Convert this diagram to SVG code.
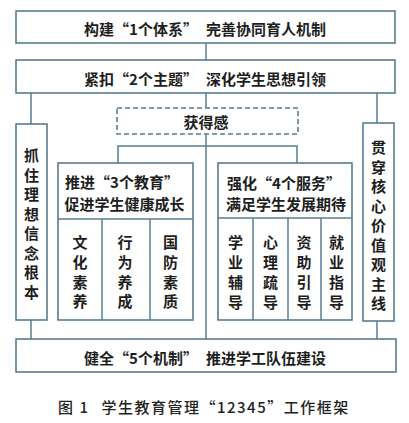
<svg xmlns="http://www.w3.org/2000/svg" width="409" height="423" viewBox="0 0 409 423">
<style>
.box{fill:#fff;stroke:#587c92;stroke-width:1.6}
.dash{fill:#fff;stroke:#587c92;stroke-width:1.6;stroke-dasharray:5 3}
.ln{stroke:#587c92;stroke-width:1.5;fill:none}
.t{font-family:"Noto Sans CJK SC","Noto Sans CJK JP",sans-serif;font-weight:bold;font-size:15px;fill:#1e1e1e;dominant-baseline:central}
.m{text-anchor:middle}
.cap{font-family:"Noto Sans CJK SC","Noto Sans CJK JP",sans-serif;font-weight:500;font-size:15px;fill:#222;dominant-baseline:central;letter-spacing:1.5px}
</style>
<rect width="409" height="423" fill="#fff"/>
<g id="connectors">
<line class="ln" x1="206" y1="43" x2="206" y2="60"/>
<line class="ln" x1="206" y1="93" x2="206" y2="108"/>
<line class="ln" x1="206" y1="134" x2="206" y2="339"/>
<polyline class="ln" points="118,163 118,146 297,146 297,163"/>
<line class="ln" x1="31" y1="93" x2="31" y2="124"/>
<line class="ln" x1="31" y1="320" x2="31" y2="339"/>
<line class="ln" x1="377" y1="93" x2="377" y2="123"/>
<line class="ln" x1="377" y1="321" x2="377" y2="339"/>
</g>
<g id="node-system">
<rect class="box" x="16" y="11" width="379" height="32"/>
<text class="t m" x="205" y="28">构建“1个体系”<tspan dx="8">完善协同育人机制</tspan></text>
</g>
<g id="node-theme">
<rect class="box" x="16" y="60" width="379" height="33"/>
<text class="t m" x="205" y="78">紧扣“2个主题”<tspan dx="8">深化学生思想引领</tspan></text>
</g>
<g id="node-gain">
<rect class="dash" x="117" y="108" width="181" height="26"/>
<text class="t m" x="206" y="121">获得感</text>
</g>
<g id="node-left">
<rect class="box" x="16" y="124" width="31" height="196"/>
<text class="t m" x="31.5" y="154.5">抓</text>
<text class="t m" x="31.5" y="174">住</text>
<text class="t m" x="31.5" y="193.5">理</text>
<text class="t m" x="31.5" y="213">想</text>
<text class="t m" x="31.5" y="232.5">信</text>
<text class="t m" x="31.5" y="252">念</text>
<text class="t m" x="31.5" y="271.5">根</text>
<text class="t m" x="31.5" y="291">本</text>
</g>
<g id="node-right">
<rect class="box" x="363" y="123" width="31" height="198"/>
<text class="t m" x="378.5" y="146.5">贯</text>
<text class="t m" x="378.5" y="166">穿</text>
<text class="t m" x="378.5" y="185.5">核</text>
<text class="t m" x="378.5" y="205">心</text>
<text class="t m" x="378.5" y="224.5">价</text>
<text class="t m" x="378.5" y="244">值</text>
<text class="t m" x="378.5" y="263.5">观</text>
<text class="t m" x="378.5" y="283">主</text>
<text class="t m" x="378.5" y="302.5">线</text>
</g>
<g id="node-education">
<rect class="box" x="58" y="163" width="135" height="157"/>
<line class="ln" x1="58" y1="219" x2="193" y2="219"/>
<line class="ln" x1="102" y1="219" x2="102" y2="320"/>
<line class="ln" x1="150" y1="219" x2="150" y2="320"/>
<text class="t m" x="122" y="181">推进“3个教育”</text>
<text class="t m" x="124.5" y="203.5">促进学生健康成长</text>
<text class="t m" x="80" y="241.5">文</text>
<text class="t m" x="80" y="261.5">化</text>
<text class="t m" x="80" y="281">素</text>
<text class="t m" x="80" y="300.5">养</text>
<text class="t m" x="125" y="241.5">行</text>
<text class="t m" x="125" y="261.5">为</text>
<text class="t m" x="125" y="281">养</text>
<text class="t m" x="125" y="300.5">成</text>
<text class="t m" x="170.5" y="241.5">国</text>
<text class="t m" x="170.5" y="261.5">防</text>
<text class="t m" x="170.5" y="281">素</text>
<text class="t m" x="170.5" y="300.5">质</text>
</g>
<g id="node-service">
<rect class="box" x="218" y="163" width="134" height="157"/>
<line class="ln" x1="218" y1="218" x2="352" y2="218"/>
<line class="ln" x1="253" y1="218" x2="253" y2="320"/>
<line class="ln" x1="288" y1="218" x2="288" y2="320"/>
<line class="ln" x1="321" y1="218" x2="321" y2="320"/>
<text class="t m" x="284" y="182">强化“4个服务”</text>
<text class="t m" x="286" y="203.5">满足学生发展期待</text>
<text class="t m" x="235.5" y="241">学</text>
<text class="t m" x="235.5" y="261">业</text>
<text class="t m" x="235.5" y="281">辅</text>
<text class="t m" x="235.5" y="301">导</text>
<text class="t m" x="270.5" y="241">心</text>
<text class="t m" x="270.5" y="261">理</text>
<text class="t m" x="270.5" y="281">疏</text>
<text class="t m" x="270.5" y="301">导</text>
<text class="t m" x="304" y="241">资</text>
<text class="t m" x="304" y="261">助</text>
<text class="t m" x="304" y="281">引</text>
<text class="t m" x="304" y="301">导</text>
<text class="t m" x="336.5" y="241">就</text>
<text class="t m" x="336.5" y="261">业</text>
<text class="t m" x="336.5" y="281">指</text>
<text class="t m" x="336.5" y="301">导</text>
</g>
<g id="node-mechanism">
<rect class="box" x="16" y="339" width="380" height="33"/>
<text class="t m" x="205" y="357">健全“5个机制”<tspan dx="8">推进学工队伍建设</tspan></text>
</g>
<text class="cap" x="58" y="406">图 1<tspan dx="12">学生教育管理“12345”工作框架</tspan></text>
</svg>
